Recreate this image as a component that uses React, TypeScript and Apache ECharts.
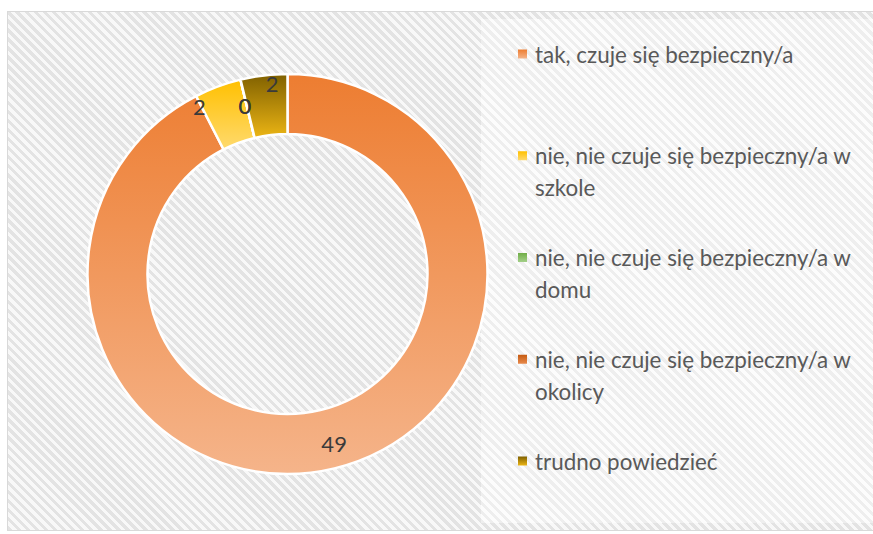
import React, { useEffect, useRef } from "react";
import * as echarts from "echarts";

const categories = [
  "tak, czuje się bezpieczny/a",
  "nie, nie czuje się bezpieczny/a w szkole",
  "nie, nie czuje się bezpieczny/a w domu",
  "nie, nie czuje się bezpieczny/a w okolicy",
  "trudno powiedzieć",
];
const legendLines = [
  "tak, czuje się bezpieczny/a",
  "nie, nie czuje się bezpieczny/a w\nszkole",
  "nie, nie czuje się bezpieczny/a w\ndomu",
  "nie, nie czuje się bezpieczny/a w\nokolicy",
  "trudno powiedzieć",
];
const values = [49, 2, 0, 0, 2];

// styles
const sliceGradients: [string, string][] = [
  ["#ED7D31", "#F5B48A"],
  ["#FFC000", "#FFDA6E"],
  ["#70AD47", "#A3CF88"],
  ["#C55A11", "#E88A4C"],
  ["#7F6000", "#ECB514"],
];
const labelNudge: [number, number][] = [
  [6, 1],
  [-28, -5],
  [-2, 0],
  [-2, 0],
  [5, -19],
];

export default function App() {
  const ref = useRef<HTMLDivElement>(null);
  useEffect(() => {
    document.body.style.margin = "0";
    const chart = echarts.init(ref.current!, undefined, { renderer: "svg" });
    const grad = (c: [string, string]) =>
      new echarts.graphic.LinearGradient(0, 0, 0, 1, [
        { offset: 0, color: c[0] },
        { offset: 1, color: c[1] },
      ]);
    const legendTop = 54;
    const legendStep = 101.75;
    const legendGraphics: any[] = [];
    legendLines.forEach((t, i) => {
      const cy = legendTop + i * legendStep;
      legendGraphics.push({
        type: "rect",
        silent: true,
        shape: { x: 518, y: cy - 4.5, width: 9, height: 9 },
        style: { fill: grad(sliceGradients[i]) },
      });
      legendGraphics.push({
        type: "text",
        silent: true,
        x: 535,
        y: cy - 16,
        style: {
          text: t,
          fill: "#595959",
          fontSize: 22.4,
          fontFamily: "Lato",
          lineHeight: 32,
          verticalAlign: "top",
          align: "left",
        },
      });
    });
    chart.setOption({
      animation: false,
      backgroundColor: "transparent",
      graphic: legendGraphics,
      series: [
        {
          type: "pie",
          silent: true,
          center: [287.5, 274],
          radius: [140, 200],
          startAngle: 90,
          clockwise: true,
          avoidLabelOverlap: false,
          itemStyle: { borderColor: "#ffffff", borderWidth: 2.5 },
          label: {
            show: true,
            position: "inside",
            formatter: "{c}",
            fontSize: 22,
            fontFamily: "Lato",
            color: "#3A3A3A",
          },
          labelLine: { show: false },
          labelLayout: (p: any) => ({
            dx: labelNudge[p.dataIndex][0],
            dy: labelNudge[p.dataIndex][1],
          }),
          data: categories.map((name, i) => ({
            name,
            value: values[i],
            itemStyle: { color: grad(sliceGradients[i]) },
          })),
        },
      ],
    });
    return () => chart.dispose();
  }, []);

  const outerStripes =
    "repeating-linear-gradient(45deg, #E3E3E3 0px, #E3E3E3 3.2px, #F8F8F8 3.2px, #F8F8F8 6.4px)";
  const innerStripes =
    "repeating-linear-gradient(45deg, #EEEEEE 0px, #EEEEEE 3.2px, #FCFCFC 3.2px, #FCFCFC 6.4px)";
  return (
    <div style={{ position: "absolute", left: 0, top: 0, width: 873, height: 534, background: "#fff", overflow: "hidden" }}>
      <div
        style={{
          position: "absolute",
          left: 7,
          top: 11,
          width: 880,
          height: 520,
          border: "1px solid #D9D9D9",
          background: outerStripes,
          boxSizing: "border-box",
        }}
      />
      <div
        style={{
          position: "absolute",
          left: 481,
          top: 19,
          width: 400,
          height: 504,
          background: innerStripes,
        }}
      />
      <div ref={ref} style={{ position: "absolute", left: 0, top: 0, width: 873, height: 534 }} />
    </div>
  );
}
